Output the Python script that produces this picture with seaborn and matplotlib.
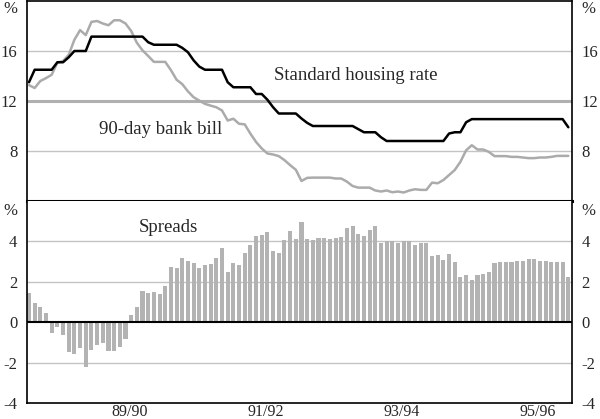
import numpy as np
import pandas as pd
import matplotlib
matplotlib.use("Agg")
import matplotlib.pyplot as plt
import seaborn as sns

# monthly data, July 1988 to June 1996
months = pd.period_range("1988-07", periods=96, freq="M")

housing = [13.5, 14.5, 14.5, 14.5, 14.5, 15.1, 15.1, 15.5, 16.0, 16.0,
           16.0, 17.15, 17.15, 17.15, 17.15, 17.15, 17.15, 17.15, 17.15, 17.15,
           17.15, 16.7, 16.5, 16.5, 16.5, 16.5, 16.5, 16.25, 15.9, 15.25,
           14.75, 14.5, 14.5, 14.5, 14.5, 13.5, 13.1, 13.1, 13.1, 13.1,
           12.56, 12.56, 12.1, 11.5, 11.0, 11.0, 11.0, 11.0, 10.6, 10.25,
           10.0, 10.0, 10.0, 10.0, 10.0, 10.0, 10.0, 10.0, 9.75, 9.5,
           9.5, 9.5, 9.1, 8.8, 8.8, 8.8, 8.8, 8.8, 8.8, 8.8,
           8.8, 8.8, 8.8, 8.8, 9.4, 9.5, 9.5, 10.3, 10.55, 10.55,
           10.55, 10.55, 10.55, 10.55, 10.55, 10.55, 10.55, 10.55, 10.55, 10.55,
           10.55, 10.55, 10.55, 10.55, 10.55, 9.9]

bank_bill = [13.27, 13.04, 13.6, 13.83, 14.1, 15.07, 15.2, 15.7, 16.9, 17.67,
             17.27, 18.33, 18.4, 18.2, 18.06, 18.46, 18.46, 18.2, 17.6, 16.66,
             16.05, 15.6, 15.13, 15.13, 15.13, 14.47, 13.7, 13.35, 12.77, 12.3,
             12.03, 11.77, 11.63, 11.5, 11.24, 10.44, 10.58, 10.18, 10.13, 9.39,
             8.72, 8.2, 7.8, 7.72, 7.59, 7.27, 6.87, 6.5, 5.6, 5.85,
             5.87, 5.87, 5.87, 5.87, 5.8, 5.8, 5.55, 5.2, 5.07, 5.07,
             5.07, 4.84, 4.76, 4.84, 4.7, 4.76, 4.68, 4.84, 4.94, 4.89,
             4.89, 5.47, 5.42, 5.68, 6.08, 6.48, 7.14, 8.06, 8.46, 8.12,
             8.12, 7.93, 7.59, 7.59, 7.59, 7.53, 7.53, 7.48, 7.43, 7.43,
             7.48, 7.48, 7.53, 7.61, 7.61, 7.61]

spreads = [1.46, 0.93, 0.75, 0.46, -0.54, -0.26, -0.62, -1.46, -1.59, -1.28,
           -2.21, -1.36, -1.11, -1.03, -1.41, -1.41, -1.25, -0.84, 0.34, 0.75,
           1.54, 1.46, 1.51, 1.41, 1.79, 2.75, 2.67, 3.18, 3.05, 2.93,
           2.66, 2.84, 2.90, 3.20, 3.67, 2.48, 2.92, 2.81, 3.45, 3.83,
           4.25, 4.31, 4.46, 3.54, 3.45, 4.07, 4.53, 4.13, 4.98, 4.13,
           4.05, 4.17, 4.17, 4.12, 4.17, 4.21, 4.64, 4.76, 4.36, 4.26,
           4.56, 4.76, 3.90, 4.00, 4.00, 3.90, 4.00, 4.00, 3.84, 3.90,
           3.90, 3.30, 3.34, 3.09, 3.40, 2.97, 2.26, 2.35, 2.07, 2.35,
           2.41, 2.50, 2.93, 2.97, 2.97, 2.97, 3.02, 3.02, 3.12, 3.12,
           3.02, 3.02, 2.97, 2.97, 2.97, 2.26]

year_labels = ["89/90", "91/92", "93/94", "95/96"]

sns.set_style("white")
plt.rcParams["font.family"] = ["Liberation Serif", "DejaVu Serif"]
plt.rcParams["font.size"] = 12
plt.rcParams["axes.unicode_minus"] = False

x = np.arange(len(months)) + 0.35
grid_col = "#c4c4c4"
label_size = 13.5

fig = plt.figure(figsize=(6, 4.19), dpi=100)
ax1 = fig.add_axes([27 / 600, 218 / 419, 545 / 600, 200 / 419])
ax2 = fig.add_axes([27 / 600, 16 / 419, 545 / 600, 202 / 419])

# top panel: interest rates
for yv in [8, 16]:
    ax1.axhline(yv, color=grid_col, lw=1, zorder=0)
ax1.axhline(12, color="#b0b0b0", lw=2.2, zorder=0)
sns.lineplot(x=x, y=bank_bill, color="#ababab", lw=1.8, ax=ax1)
sns.lineplot(x=x, y=housing, color="black", lw=1.8, ax=ax1)
ax1.set_xlim(0, 96)
ax1.set_ylim(4, 20)
ax1.set_yticks([8, 12, 16])
ax1.set_xticks([])
ax1.text(43.5, 14.0, "Standard housing rate", ha="left", va="center", fontsize=label_size)
ax1.text(12.7, 9.7, "90-day bank bill", ha="left", va="center", fontsize=label_size)

# bottom panel: spreads
for yv in [-2, 2, 4]:
    ax2.axhline(yv, color=grid_col, lw=1, zorder=0)
sns.barplot(x=x, y=spreads, native_scale=True, width=0.72, color="#b3b3b3",
            saturation=1, errorbar=None, linewidth=0, ax=ax2, zorder=2)
ax2.axhline(0, color="black", lw=1.5, zorder=3)
ax2.set_xlim(0, 96)
ax2.set_ylim(-4, 6)
ax2.set_yticks([-4, -2, 0, 2, 4])
ax2.set_xticks(range(12, 96, 12))
ax2.set_xticklabels([])
ax2.set_xticks([18, 42, 66, 90], minor=True)
ax2.set_xticklabels(year_labels, minor=True)
ax2.tick_params(axis="x", which="major", direction="in", length=6, width=1.2)
ax2.tick_params(axis="x", which="minor", length=0, pad=1, labelsize=11.5)
ax2.text(19.6, 4.7, "Spreads", ha="left", va="center", fontsize=label_size)

for ax, ypct in [(ax1, 19.4), (ax2, 5.5)]:
    ax.set_xlabel("")
    ax.set_ylabel("")
    ax.tick_params(axis="y", length=0, pad=7, labelleft=True, labelright=True)
    for s in ax.spines.values():
        s.set_color("black")
        s.set_linewidth(1.2)
    ax.annotate("%", xy=(0, ypct), xycoords=("axes fraction", "data"),
                xytext=(-7, 0), textcoords="offset points", ha="right", va="center")
    ax.annotate("%", xy=(1, ypct), xycoords=("axes fraction", "data"),
                xytext=(7, 0), textcoords="offset points", ha="left", va="center")
ax1.spines["bottom"].set_linewidth(2.2)
ax2.spines["top"].set_visible(False)

fig.savefig("out.png", dpi=100)
